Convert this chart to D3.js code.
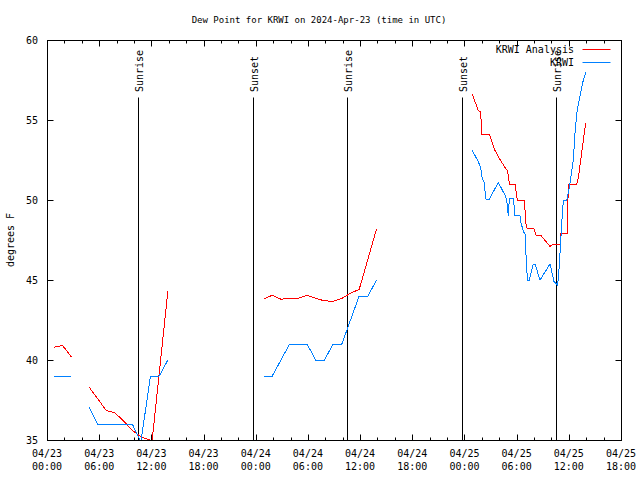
<!DOCTYPE html>
<html><head><meta charset="utf-8">
<script src="https://cdn.jsdelivr.net/npm/d3@7"></script>
<style>
html,body{margin:0;padding:0;background:#fff;}
svg{display:block;}
text{font-family:"DejaVu Sans Mono","Liberation Mono",monospace;fill:#000;}
</style></head>
<body><svg id="c" width="640" height="480"></svg>
<script>
// ---- data (hours since 2024-04-23 00:00 UTC) ----
const startTime = "2024-04-23T00:00:00Z";
const endTime = "2024-04-25T18:00:00Z";
const chartTitle = "Dew Point for KRWI on 2024-Apr-23 (time in UTC)";
const yLabel = "degrees F";
const yTicks = [35, 40, 45, 50, 55, 60];
const seriesNames = ["KRWI Analysis", "KRWI"];

const analysisHours = [0.8,1.8,2.8,3.8,4.85,5.8,6.8,7.8,8.8,9.8,10.9,11.8,11.9,13.9,18,
  24.9,25.9,26.9,27.9,28.9,29.9,30.9,31.9,32.9,33.9,34.9,35.9,36.9,37.9,43,
  48.90,49.59,49.87,49.98,50.86,51.51,52.01,52.58,52.97,53.16,53.81,54.08,54.88,55.08,55.23,56.0,56.23,56.77,57.84,58.18,58.99,59.1,59.83,59.94,60.9,61.09,61.37,61.67,61.94];
const analysisValues = [40.8,40.9,40.2,null,38.3,37.6,36.85,36.7,36.2,35.6,35.17,35.0,34.0,44.3,null,
  43.8,44.05,43.8,43.85,43.85,44.05,43.85,43.7,43.67,43.85,44.17,44.42,46.3,48.2,null,
  56.6,55.6,55.5,54.1,54.1,53.1,52.6,52.1,51.8,51.0,51.0,50.0,50.0,48.5,48.2,48.2,47.8,47.8,47.1,47.25,47.25,47.9,47.9,51.0,51.0,51.35,52.5,53.75,54.8];

const obsHours = [0.8,1.8,2.8,3.8,4.85,5.8,6.8,7.8,8.8,9.8,10.8,11.9,12.9,13.9,18,
  24.9,25.9,26.9,27.9,28.9,29.9,30.9,31.9,32.9,33.9,34.9,35.9,36.9,37.9,43,
  48.90,49.59,49.87,49.98,50.25,50.48,50.86,51.89,52.66,52.86,53.04,53.16,53.62,53.81,54.39,54.47,54.70,54.77,54.96,55.16,55.27,55.46,55.92,56.11,56.69,57.84,58.30,58.68,58.79,58.99,59.18,59.37,59.76,60.06,60.25,60.52,60.71,60.91,61.09,61.67,61.98];
const obsValues = [39,39,39,null,37.04,36,36,36,36,36,34.9,39,39,40,null,
  39,39,40,41,41,41,40,40,41,41,42.5,44,44,45,null,
  53.1,52.4,52.0,51.5,51.1,50.05,50.05,51.1,50.3,50.0,49.0,50.1,50.1,49.05,49.0,48.6,48.2,48.0,47.9,45.6,45.0,45.0,46.0,46.0,45.0,46.0,44.9,44.7,45.0,46.7,48.5,50.0,50.0,50.8,51.5,52.5,54.2,55.4,56.0,57.5,58.0];

const eventLabels = ["Sunrise","Sunset","Sunrise","Sunset","Sunrise"];
const eventHours = [10.46, 23.69, 34.5, 47.72, 58.53];

// ---- drawing ----
const svg = d3.select("#c");
const L = 47, R = 621, T = 40, B = 440;
const t0 = new Date(startTime);
const toDate = h => new Date(t0.getTime() + h * 3600e3);
const x = d3.scaleUtc().domain([t0, new Date(endTime)]).range([L, R]);
const y = d3.scaleLinear().domain([35, 60]).range([B, T]);
const colors = ["#ff0000", "#0080ff"];

svg.append("defs").append("clipPath").attr("id","clip")
  .append("rect").attr("x",L).attr("y",T).attr("width",R-L).attr("height",B-T);

const g = svg.append("g").attr("transform","translate(0.5,0.5)");

// ticks
const majorT = d3.utcHour.every(6).range(x.domain()[0], new Date(x.domain()[1].getTime()+1));
const minorT = d3.utcHour.every(2).range(x.domain()[0], new Date(x.domain()[1].getTime()+1))
  .filter(d => d.getUTCHours() % 6 !== 0);
const tickG = g.append("g").attr("stroke","#000").attr("stroke-width",1);
majorT.forEach(d => {
  const xx = Math.round(x(d));
  tickG.append("line").attr("x1",xx).attr("x2",xx).attr("y1",B).attr("y2",B-6);
  tickG.append("line").attr("x1",xx).attr("x2",xx).attr("y1",T).attr("y2",T+6);
});
minorT.forEach(d => {
  const xx = Math.round(x(d));
  tickG.append("line").attr("x1",xx).attr("x2",xx).attr("y1",B).attr("y2",B-3);
  tickG.append("line").attr("x1",xx).attr("x2",xx).attr("y1",T).attr("y2",T+3);
});
yTicks.forEach(v => {
  const yy = Math.round(y(v));
  tickG.append("line").attr("x1",L).attr("x2",L+6).attr("y1",yy).attr("y2",yy);
  tickG.append("line").attr("x1",R).attr("x2",R-6).attr("y1",yy).attr("y2",yy);
});

// x tick labels
const fmtD = d3.utcFormat("%m/%d"), fmtH = d3.utcFormat("%H:%M");
majorT.forEach(d => {
  const t = svg.append("text").attr("text-anchor","middle").style("font-size","10px");
  t.append("tspan").attr("x", x(d)).attr("y", 457).text(fmtD(d));
  t.append("tspan").attr("x", x(d)).attr("y", 470).text(fmtH(d));
});
// y tick labels
yTicks.forEach(v => {
  svg.append("text").attr("x",38).attr("y",y(v)+4).attr("text-anchor","end")
    .style("font-size","10px").text(v);
});

// title & axis label
svg.append("text").attr("x",319).attr("y",23).attr("text-anchor","middle")
  .style("font-size","9px").text(chartTitle);
svg.append("text").attr("transform","translate(14,240) rotate(-90)").attr("text-anchor","middle")
  .style("font-size","10px").text(yLabel);

// event lines
eventHours.forEach((h,i) => {
  const xx = Math.round(x(toDate(h)));
  g.append("line").attr("x1",xx).attr("x2",xx).attr("y1",97).attr("y2",B)
    .attr("stroke","#000").attr("stroke-width",1);
  svg.append("text").attr("transform",`translate(${xx+4.5},92) rotate(-90)`)
    .attr("text-anchor","start").style("font-size","10px").text(eventLabels[i]);
});

// series
const mk = (hs, vs) => hs.map((h,i) => ({t: toDate(h), v: vs[i]}));
const series = [mk(analysisHours, analysisValues), mk(obsHours, obsValues)];
const line = d3.line().defined(d => d.v != null).x(d => x(d.t)).y(d => y(d.v));
const plot = svg.append("g").attr("clip-path","url(#clip)");
series.forEach((s,i) => {
  plot.append("path").datum(s).attr("d", line).attr("fill","none")
    .attr("stroke", colors[i]).attr("stroke-width",1)
    .attr("shape-rendering","crispEdges");
});

// legend
seriesNames.forEach((n,i) => {
  const yy = 49 + i*13;
  svg.append("text").attr("x",574).attr("y",yy+4).attr("text-anchor","end")
    .style("font-size","10px").text(n);
  g.append("line").attr("x1",582).attr("x2",610).attr("y1",yy).attr("y2",yy)
    .attr("stroke",colors[i]).attr("stroke-width",1);
});

// frame
g.append("rect").attr("x",L).attr("y",T).attr("width",R-L).attr("height",B-T)
  .attr("fill","none").attr("stroke","#000").attr("stroke-width",1);
</script></body></html>
